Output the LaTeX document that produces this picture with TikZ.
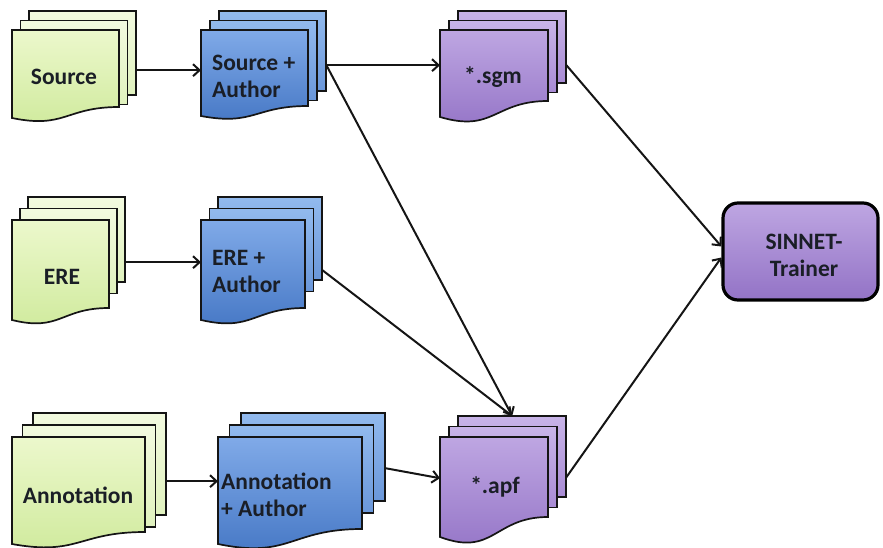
\documentclass[tikz,border=0pt]{standalone}
\usepackage{fontspec}
\setmainfont{Carlito}
\usetikzlibrary{arrows.meta,calc}
\definecolor{linec}{HTML}{151515}
\definecolor{textc}{HTML}{1A1E26}
\definecolor{gbT}{HTML}{F2FADF}\definecolor{gbB}{HTML}{E0F2BE}
\definecolor{gfT}{HTML}{ECF8CC}\definecolor{gfB}{HTML}{CFEA9C}
\definecolor{bbT}{HTML}{92BAEE}\definecolor{bbB}{HTML}{6A97DA}
\definecolor{bfT}{HTML}{80AAE8}\definecolor{bfB}{HTML}{4476C4}
\definecolor{pbT}{HTML}{C8B4E8}\definecolor{pbB}{HTML}{A88BD4}
\definecolor{pfT}{HTML}{BEA6E2}\definecolor{pfB}{HTML}{9373C6}
\tikzset{
  sheetline/.style={draw=linec, line width=1.7pt, line join=miter},
  greenback/.style={sheetline, top color=gbT, bottom color=gbB},
  greenfront/.style={sheetline, top color=gfT, bottom color=gfB},
  blueback/.style={sheetline, top color=bbT, bottom color=bbB},
  bluefront/.style={sheetline, top color=bfT, bottom color=bfB},
  purpleback/.style={sheetline, top color=pbT, bottom color=pbB},
  purplefront/.style={sheetline, top color=pfT, bottom color=pfB},
  lbl/.style={font=\fontsize{23.5}{27}\selectfont\bfseries, text=textc, inner sep=0pt},
  arr/.style={-{Straight Barb[length=6.5pt,width=12pt,line width=2pt]}, line width=2pt, draw=linec},
  sinbox/.style={draw=black, line width=3.2pt, rounded corners=15pt, top color=pfT, bottom color=pfB,
    minimum width=155pt, minimum height=97pt, inner sep=0pt}
}
\pgfkeys{/ds/.is family,/ds,
  x/.store in=\dsx, y/.store in=\dsy, w/.store in=\dsw,
  dx/.store in=\dsdx, dy/.store in=\dsdy,
  hb/.store in=\dshb, hr/.store in=\dshr, hl/.store in=\dshl,
  kind/.code={\tikzset{dsback/.style={#1back},dsfront/.style={#1front}}}}
\newcommand\docstack[2]{%
  \pgfkeys{/ds,#2}%
  \pgfmathsetmacro\dsxb{\dsx+2*\dsdx}\pgfmathsetmacro\dsyb{\dsy-2*\dsdy}%
  \pgfmathsetmacro\dsxm{\dsx+\dsdx}\pgfmathsetmacro\dsym{\dsy-\dsdy}%
  \pgfmathsetmacro\dsxr{\dsx+\dsw}\pgfmathsetmacro\dsxh{\dsx+\dsw/2}%
  \pgfmathsetmacro\dsyr{\dsy+\dshr}\pgfmathsetmacro\dsyl{\dsy+\dshl}%
  \pgfmathsetmacro\dsyc{\dsy+\dshr+2*(\dshl-\dshr)}%
  \path[dsback] (\dsxb,\dsyb) rectangle ++(\dsw,\dshb);
  \path[dsback] (\dsxm,\dsym) rectangle ++(\dsw,\dshb);
  \path[dsfront] (\dsx,\dsy) -- (\dsxr,\dsy) -- (\dsxr,\dsyr)
     .. controls (\dsxh,\dsyr) and (\dsxh,\dsyc) .. (\dsx,\dsyl) -- cycle;
  \node[inner sep=0pt,minimum width=\dsw,minimum height=\dshb,anchor=north west] (#1-b) at (\dsxb,\dsyb) {};
  \node[inner sep=0pt,minimum width=\dsw,minimum height=\dshl,anchor=north west] (#1) at (\dsx,\dsy) {};
}
\begin{document}
\begin{tikzpicture}[x=1pt,y=-1pt]
\useasboundingbox (0,0) rectangle (883,548);
% stacks
\docstack{src}{x=12,y=30,w=107,dx=8.5,dy=9.5,hb=84,hr=77,hl=88,kind=green}
\docstack{sa}{x=201,y=30,w=107,dx=9,dy=9.5,hb=80,hr=76,hl=86,kind=blue}
\docstack{sgm}{x=440,y=30,w=108,dx=9,dy=9.5,hb=72,hr=71,hl=87,kind=purple}
\docstack{ere}{x=12,y=220,w=97,dx=8,dy=11.5,hb=85,hr=88,hl=100,kind=green}
\docstack{ea}{x=201,y=220,w=104,dx=8.5,dy=11.5,hb=83,hr=88,hl=100,kind=blue}
\docstack{ann}{x=12,y=437,w=133,dx=10.5,dy=12,hb=102,hr=95,hl=107,kind=green}
\docstack{aa}{x=218,y=437,w=144,dx=11.5,dy=12,hb=88,hr=92,hl=107,kind=blue}
\docstack{apf}{x=440,y=437,w=108,dx=9,dy=10.5,hb=81,hr=80,hl=100,kind=purple}
% labels
\node[lbl] (src-t) at (64,77) {Source};
\node[lbl,align=left,anchor=west] (sa-t) at (212,76) {Source +\\Author};
\node[lbl] (sgm-t) at (493,77) {*.sgm};
\node[lbl] (ere-t) at (62,277) {ERE};
\node[lbl,align=left,anchor=west] (ea-t) at (212,271.5) {ERE +\\Author};
\node[lbl] (ann-t) at (78,495) {Annotation};
\node[lbl,align=left,anchor=west] (aa-t) at (221,494.5) {Annotation\\+ Author};
\node[lbl] (apf-t) at (495,487) {*.apf};
% trainer
\node[sinbox] (sin) at (800.5,251.5) {};
\node[lbl,align=center] (sin-t) at (804,255) {SINNET-\\Trainer};
% connectors
\draw[arr] ([yshift=-17pt]src-b.east) coordinate (a1) -- (a1 -| sa.west);
\draw[arr] ([yshift=-14pt]sa-b.east) coordinate (a2) -- (a2 -| sgm.west);
\draw[arr] (a2) -- (apf-b.north);
\draw[arr] ([yshift=-22.5pt]ere-b.east) coordinate (a3) -- (a3 -| ea.west);
\draw[arr] ([yshift=-31.5pt]ea-b.east) -- (apf-b.north);
\draw[arr] ([yshift=-17pt]ann-b.east) coordinate (a4) -- (a4 -| aa.west);
\draw[arr] ([yshift=-11pt]aa-b.east) -- ([yshift=9pt]apf.west);
\draw[arr] ([yshift=-18pt]sgm-b.east) -- ([yshift=5pt]sin.west);
\draw[arr] ([yshift=-20.5pt]apf-b.east) -- ([yshift=-6pt]sin.west);
\end{tikzpicture}
\end{document}
